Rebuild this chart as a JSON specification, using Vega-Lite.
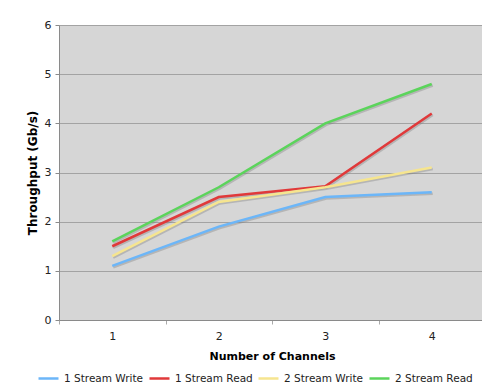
{
  "$schema": "https://vega.github.io/schema/vega-lite/v6.json",
  "width": 426,
  "height": 295,
  "autosize": {"type": "none"},
  "padding": {"left": 59, "top": 25, "right": 0, "bottom": 68},
  "background": "white",
  "config": {
    "font": "DejaVu Sans",
    "view": {"fill": "#d6d6d6", "stroke": null}
  },
  "data": {
    "values": [
      {"channels": 1, "series": "1 Stream Write", "value": 1.1},
      {"channels": 2, "series": "1 Stream Write", "value": 1.9},
      {"channels": 3, "series": "1 Stream Write", "value": 2.5},
      {"channels": 4, "series": "1 Stream Write", "value": 2.6},
      {"channels": 1, "series": "1 Stream Read", "value": 1.5},
      {"channels": 2, "series": "1 Stream Read", "value": 2.5},
      {"channels": 3, "series": "1 Stream Read", "value": 2.72},
      {"channels": 4, "series": "1 Stream Read", "value": 4.2},
      {"channels": 1, "series": "2 Stream Write", "value": 1.3},
      {"channels": 2, "series": "2 Stream Write", "value": 2.4},
      {"channels": 3, "series": "2 Stream Write", "value": 2.7},
      {"channels": 4, "series": "2 Stream Write", "value": 3.1},
      {"channels": 1, "series": "2 Stream Read", "value": 1.6},
      {"channels": 2, "series": "2 Stream Read", "value": 2.7},
      {"channels": 3, "series": "2 Stream Read", "value": 4.0},
      {"channels": 4, "series": "2 Stream Read", "value": 4.8}
    ]
  },
  "encoding": {
    "x": {
      "field": "channels",
      "type": "ordinal",
      "bandPosition": 0.5,
      "scale": {"type": "band", "paddingInner": 0, "paddingOuter": 0},
      "axis": {
        "title": "Number of Channels",
        "titleFontSize": 11,
        "titleFontWeight": "bold",
        "titleColor": "#000",
        "titlePadding": 9,
        "labelAngle": 0,
        "labelFontSize": 11,
        "labelColor": "#222",
        "labelPadding": 6,
        "tickBand": "extent",
        "tickSize": 4,
        "tickColor": "#aaa",
        "domainColor": "#8a8a8a",
        "grid": false
      }
    },
    "y": {
      "field": "value",
      "type": "quantitative",
      "scale": {"domain": [0, 6], "nice": false},
      "axis": {
        "title": "Throughput (Gb/s)",
        "titleFontSize": 12,
        "titleFontWeight": "bold",
        "titleColor": "#000",
        "titlePadding": 5,
        "values": [0, 1, 2, 3, 4, 5, 6],
        "labelFontSize": 11,
        "labelColor": "#222",
        "labelPadding": 4,
        "tickSize": 4,
        "tickColor": "#8a8a8a",
        "domainColor": "#8a8a8a",
        "grid": true,
        "gridColor": "#a3a3a3",
        "gridWidth": 1
      }
    }
  },
  "layer": [
    {
      "mark": {"type": "line", "strokeWidth": 2.5, "color": "#777", "opacity": 0.35, "yOffset": 1.5, "xOffset": 1},
      "encoding": {"detail": {"field": "series"}}
    },
    {
      "mark": {"type": "line", "strokeWidth": 2.5},
      "encoding": {
        "color": {
          "field": "series",
          "type": "nominal",
          "scale": {
            "domain": ["1 Stream Write", "1 Stream Read", "2 Stream Write", "2 Stream Read"],
            "range": ["#6cb6f8", "#e0393a", "#f6e58f", "#5bd45b"]
          },
          "legend": {
            "title": null,
            "orient": "none",
            "direction": "horizontal",
            "legendX": -22,
            "legendY": 342,
            "symbolType": "stroke",
            "symbolSize": 400,
            "symbolStrokeWidth": 2.5,
            "labelFontSize": 10.5,
            "labelColor": "#222",
            "labelOffset": 4,
            "columnPadding": 0
          }
        }
      }
    }
  ]
}
